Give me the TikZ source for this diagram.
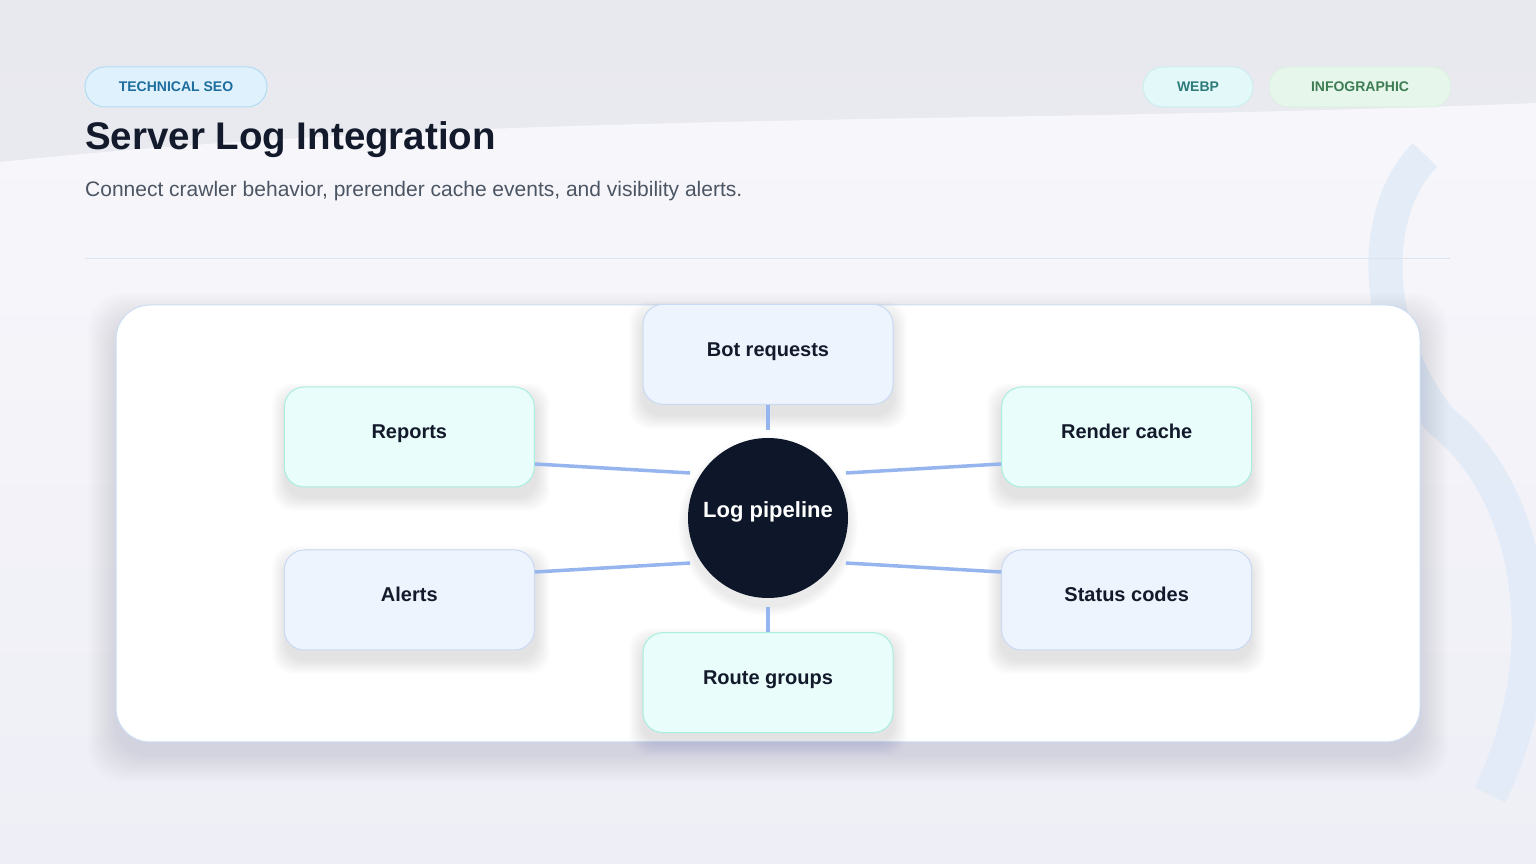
\documentclass[tikz,border=0pt]{standalone}
\usepackage{fontspec}
\setmainfont{Liberation Sans}
\usetikzlibrary{positioning,calc}

\definecolor{ink}{HTML}{131A2C}
\definecolor{subtext}{HTML}{4B5563}
\definecolor{bgtop}{HTML}{E8E9EE}
\definecolor{bgbot}{HTML}{EEEEF6}
\definecolor{wavetop}{HTML}{F7F7FB}
\definecolor{deco}{HTML}{DFEAF7}
\definecolor{rule}{HTML}{DAE5F2}
\definecolor{cardline}{HTML}{CCDDF4}
\definecolor{mintfill}{HTML}{E9FDFB}
\definecolor{mintline}{HTML}{A9EEDE}
\definecolor{bluefill}{HTML}{EEF4FD}
\definecolor{blueline}{HTML}{C8DAF4}
\definecolor{linkc}{HTML}{96B5EE}
\definecolor{hub}{HTML}{0E1729}
\definecolor{shade}{HTML}{3A3F66}
\definecolor{seofill}{HTML}{DFF1FC}
\definecolor{seoline}{HTML}{B3DCF4}
\definecolor{seotext}{HTML}{1D6E9E}
\definecolor{webpfill}{HTML}{E3F8F8}
\definecolor{webpline}{HTML}{CDEEF0}
\definecolor{webptext}{HTML}{2E7C7A}
\definecolor{infofill}{HTML}{E6F6EB}
\definecolor{infoline}{HTML}{DDF1E3}
\definecolor{infotext}{HTML}{3E7D54}

\tikzset{
  box/.style={draw=#1, line width=1pt, rounded corners=20pt,
    minimum width=250pt, minimum height=100pt, text=ink,
    text height=14pt, text depth=10pt,
    font=\fontsize{20}{24}\selectfont\bfseries},
  mintbox/.style={box=mintline, fill=mintfill},
  bluebox/.style={box=blueline, fill=bluefill},
  link/.style={draw=linkc, line width=3.5pt},
  pill/.style={rounded corners=20pt, minimum height=40pt, line width=1pt,
    font=\fontsize{14}{16}\selectfont\bfseries},
  softshade/.style={fill=shade, opacity=#1},
  softshade/.default=.008
}

\begin{document}
\begin{tikzpicture}[x=1pt, y=1pt]
\useasboundingbox (0,0) rectangle (1536,864);
\clip (0,0) rectangle (1536,864);

% background and wave
\shade[top color=bgtop, bottom color=bgbot] (0,0) rectangle (1536,864);
\shade[top color=wavetop, bottom color=bgbot]
  (0,702) .. controls (500,754) and (1000,739) .. (1536,761)
  -- (1536,0) -- (0,0) -- cycle;
\draw[deco, line width=34pt, opacity=.8]
  (1425,709) .. controls (1370,654) and (1370,534) .. (1440,444)
  .. controls (1530,374) and (1560,214) .. (1490,69);

% header
\node[pill, draw=seoline, fill=seofill, text=seotext, minimum width=182pt]
  (tag) at (176,777) {TECHNICAL SEO};
\node[pill, draw=webpline, fill=webpfill, text=webptext, minimum width=110pt]
  (webp) at (1198,777) {WEBP};
\node[pill, draw=infoline, fill=infofill, text=infotext, minimum width=182pt]
  (infog) at (1360,777) {INFOGRAPHIC};
\node[anchor=base west, inner sep=0pt, text=ink,
  font=\fontsize{38.5}{46}\selectfont\bfseries] (title) at (85,714)
  {Server Log Integration};
\node[anchor=base west, inner sep=0pt, text=subtext,
  font=\fontsize{21}{25}\selectfont] (subtitle) at (85,667)
  {Connect crawler behavior, prerender cache events, and visibility alerts.};
\draw[rule, line width=1pt] (85,605) -- (1450,605);

% card with soft shadow
\coordinate (cardsw) at (116,122);
\coordinate (cardne) at (1420,559);
\foreach \i in {2,4,...,28}
  \fill[softshade=.008, rounded corners=34pt]
    ($(cardsw)+(-\i,-12-\i)$) rectangle ($(cardne)+(\i,-16+\i)$);
\node[draw=cardline, fill=white, line width=1pt, rounded corners=34pt,
  minimum width=1304pt, minimum height=437pt] (card) at (768,340.5) {};

% hub and sources
\foreach \i in {1,...,10}
  \fill[softshade] (768,338) circle (80+\i);
\node[circle, fill=hub, text=white, minimum size=160pt, inner sep=0pt,
  text height=16pt, text depth=16pt,
  font=\fontsize{22}{26}\selectfont\bfseries] (pipe) at (768,346) {Log pipeline};

% box shadows (lower left corners)
\foreach \x/\y in {643/459, 643/132, 286/377, 286/214, 1001/377, 1001/214}
  \foreach \i in {1,...,14}
    \fill[softshade, rounded corners=20pt]
      (\x-\i,\y-10-\i) rectangle (\x+250+\i,\y+90+\i);

\node[bluebox, above=33pt of pipe] (bot) {Bot requests};
\node[mintbox, below=34pt of pipe] (route) {Route groups};
\node[mintbox, left=153pt of pipe, yshift=81pt] (reports) {Reports};
\node[bluebox, left=153pt of pipe, yshift=-82pt] (alerts) {Alerts};
\node[mintbox, right=153pt of pipe, yshift=81pt] (render) {Render cache};
\node[bluebox, right=153pt of pipe, yshift=-82pt] (status) {Status codes};

\draw[link] (bot.south) -- ($(pipe.center)+(90:88pt)$);
\draw[link] (route.north) -- ($(pipe.center)+(270:89pt)$);
\draw[link] ([yshift=-27pt]reports.east) -- ($(pipe.center)+(150:90pt)$);
\draw[link] ([yshift=28pt]alerts.east) -- ($(pipe.center)+(210:90pt)$);
\draw[link] ([yshift=-27pt]render.west) -- ($(pipe.center)+(30:90pt)$);
\draw[link] ([yshift=28pt]status.west) -- ($(pipe.center)+(330:90pt)$);
\end{tikzpicture}
\end{document}
